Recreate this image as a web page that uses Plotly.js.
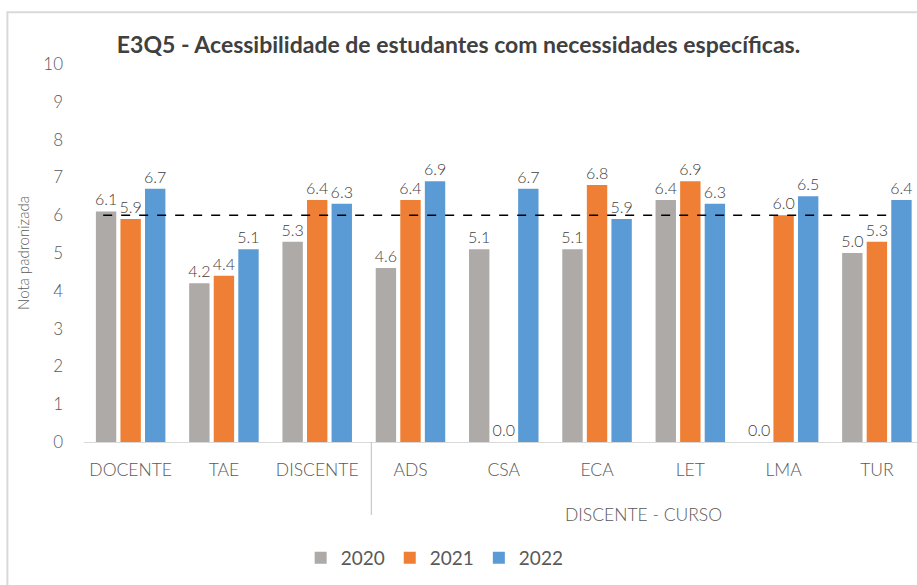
<!DOCTYPE html>
<html>
<head>
<meta charset="utf-8">
<script src="https://cdn.plot.ly/plotly-3.0.1.min.js"></script>
<style>
html,body{margin:0;padding:0;background:#fff;}
#chart{width:917px;height:585px;}
</style>
</head>
<body>
<div id="chart"></div>
<script>
const categorias = ["DOCENTE", "TAE", "DISCENTE", "ADS", "CSA", "ECA", "LET", "LMA", "TUR"];
const anos = ["2020", "2021", "2022"];
const notas2020 = [6.1, 4.2, 5.3, 4.6, 5.1, 5.1, 6.4, 0.0, 5.0];
const notas2021 = [5.9, 4.4, 6.4, 6.4, 0.0, 6.8, 6.9, 6.0, 5.3];
const notas2022 = [6.7, 5.1, 6.3, 6.9, 6.7, 5.9, 6.3, 6.5, 6.4];
const referencia = 6;
const grupoCurso = "DISCENTE - CURSO";
const titulo = "E3Q5 - Acessibilidade de estudantes com necessidades específicas.";
const tituloY = "Nota padronizada";

const cores = ["#adaaa8", "#ef7f35", "#5b9bd5"];
const series = [notas2020, notas2021, notas2022];
const fontFam = "Lato, 'Open Sans', sans-serif";

const traces = series.map((vals, i) => ({
  type: "bar",
  name: anos[i],
  x: categorias,
  y: vals,
  marker: {color: cores[i]},
  texttemplate: "%{y:.1f}",
  textposition: "outside",
  constraintext: "none",
  cliponaxis: false,
  textfont: {family: fontFam, size: 16, color: "#404040", weight: 300},
  hoverinfo: "x+y+name"
}));

const layout = {
  width: 917,
  height: 585,
  margin: {l: 84, r: 0, t: 64, b: 143},
  paper_bgcolor: "#fff",
  plot_bgcolor: "#fff",
  barmode: "group",
  bargap: 0.21,
  bargroupgap: 0.17,
  title: {
    text: "<b>" + titulo + "</b>",
    font: {family: fontFam, size: 23, color: "#404040"},
    x: 0.5, xref: "container", xanchor: "center",
    y: 1 - 45/585, yref: "container", yanchor: "middle"
  },
  xaxis: {
    type: "category",
    range: [-0.5, 8.43],
    showline: true, linecolor: "#d9d9d9", linewidth: 1,
    showgrid: false, zeroline: false, ticks: "",
    ticklabelstandoff: 12,
    tickfont: {family: fontFam, size: 17.5, color: "#595959", weight: 300}
  },
  yaxis: {
    range: [0, 10],
    dtick: 1,
    showgrid: false, zeroline: false, showline: false, ticks: "",
    ticklabelstandoff: 20,
    tickfont: {family: fontFam, size: 17, color: "#595959", weight: 300},
    title: {text: tituloY, font: {family: fontFam, size: 15, color: "#595959", weight: 300}, standoff: 10}
  },
  showlegend: true,
  legend: {
    orientation: "h",
    x: 0.474, xref: "container", xanchor: "center",
    y: 1 - 558/585, yref: "container", yanchor: "middle",
    font: {family: fontFam, size: 19, color: "#595959", weight: 400},
    itemwidth: 30,
    traceorder: "normal"
  },
  shapes: [
    {type: "line", xref: "paper", yref: "y", x0: 0.023, x1: 0.966, y0: referencia, y1: referencia,
     line: {color: "#000", width: 1.5, dash: "dash"}},
    {type: "line", xref: "x", yref: "paper", x0: 2.58, x1: 2.58, y0: 0, y1: -0.193,
     line: {color: "#bfbfbf", width: 1}},
    {type: "rect", xref: "paper", yref: "paper", x0: -0.092, x1: 1.2, y0: 1.137, y1: -0.6,
     line: {color: "#d9d9d9", width: 2}, fillcolor: "rgba(0,0,0,0)", layer: "below"}
  ],
  annotations: [
    {text: grupoCurso, xref: "x", yref: "paper", x: 5.5, y: -0.193, xanchor: "center", yanchor: "middle",
     showarrow: false, font: {family: fontFam, size: 17.5, color: "#595959", weight: 300}}
  ]
};

Plotly.newPlot("chart", traces, layout, {displayModeBar: false, staticPlot: true});
</script>
</body>
</html>
